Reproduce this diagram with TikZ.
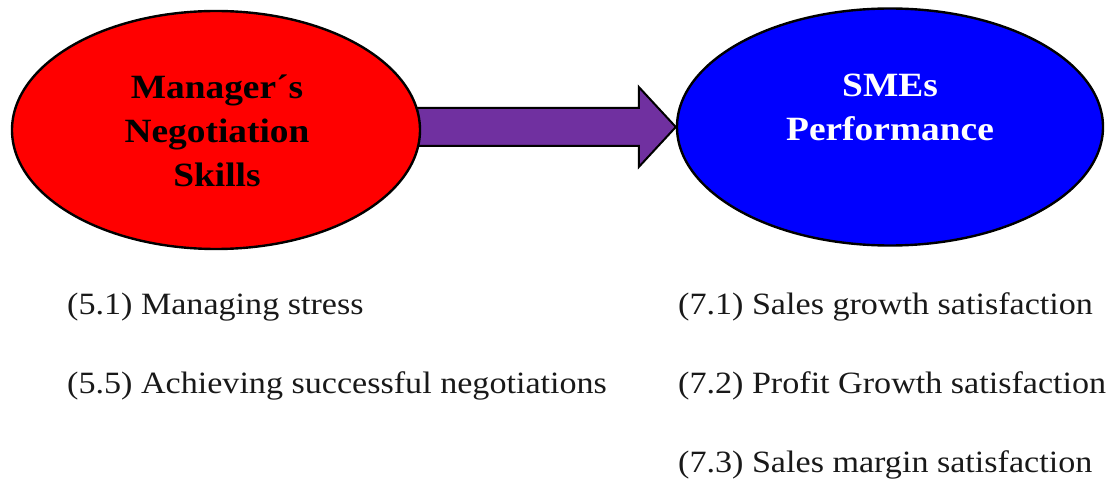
\documentclass[tikz,border=0pt]{standalone}
\usepackage{fontspec}
\setmainfont{Liberation Serif}[FakeStretch=1.1]
\usetikzlibrary{shapes.geometric,backgrounds,calc}
\definecolor{arrowpurple}{RGB}{112,48,160}
\definecolor{textgray}{RGB}{25,25,25}
\tikzset{
  construct/.style={ellipse, draw=black, line width=2.4pt, inner sep=0pt},
  title/.style={font=\fontsize{34}{44}\selectfont\bfseries, align=center, inner sep=0pt},
  item/.style={font=\fontsize{31}{37}\selectfont, text=textgray, anchor=base west, inner sep=0pt},
  fatarrow/.style={fill=arrowpurple, draw=black, line width=2pt, line join=miter}
}
\begin{document}
\begin{tikzpicture}[x=1pt, y=-1pt]
  \useasboundingbox (0,0) rectangle (1117,481);
  % the two constructs
  \node[construct, fill=red, minimum width=408pt, minimum height=238pt] (L) at (216,130) {};
  \node[construct, fill=blue, minimum width=426pt, minimum height=237pt] (R) at (890,127) {};
  \node[title, text=black] (Ltxt) at (217,131) {Manager´s\\Negotiation\\Skills};
  \node[title, text=white] (Rtxt) at (890,107) {SMEs\\Performance};
  % block arrow from one construct to the other
  \coordinate (tip) at (R.west);
  \coordinate (tail) at ($(L.east |- R.west)+(-4,0)$);
  \begin{scope}[on background layer]
    \draw[fatarrow] ($(tail)+(0,-19)$) -- ($(tip)+(-37,-19)$) -- ($(tip)+(-37,-40)$)
      -- (tip) -- ($(tip)+(-37,40)$) -- ($(tip)+(-37,19)$) -- ($(tail)+(0,19)$) -- cycle;
  \end{scope}
  % indicators
  \node[item] (m51) at (67,315) {(5.1) Managing stress};
  \node[item] (m55) at (67,393) {(5.5) Achieving successful negotiations};
  \node[item] (p71) at (678,315) {(7.1) Sales growth satisfaction};
  \node[item] (p72) at (678,393) {(7.2) Profit Growth satisfaction};
  \node[item] (p73) at (678,472) {(7.3) Sales margin satisfaction};
\end{tikzpicture}
\end{document}
